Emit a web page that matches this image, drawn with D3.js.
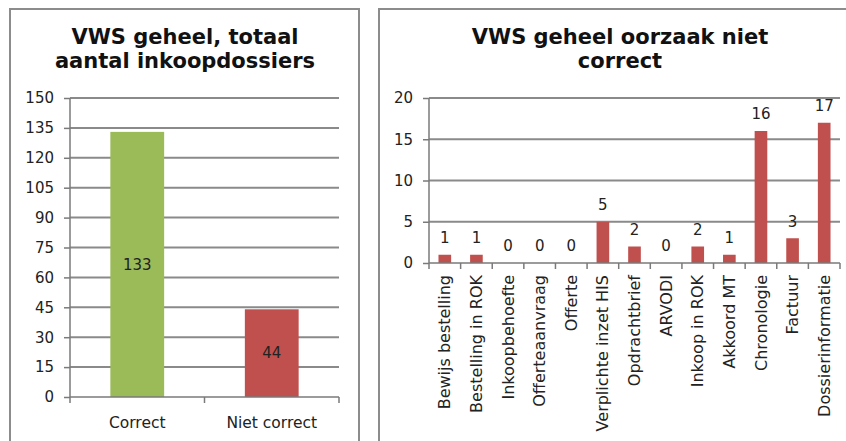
<!DOCTYPE html>
<html>
<head>
<meta charset="utf-8">
<script src="https://cdnjs.cloudflare.com/ajax/libs/d3/7.8.5/d3.min.js"></script>
<style>
  body { margin: 0; background: #fff; }
  svg { display: block; }
  text { font-family: "DejaVu Sans", Verdana, sans-serif; fill: #222; }
  .title { font-weight: bold; font-size: 21px; fill: #111; }
  .grid line { stroke: #8a8a8a; stroke-width: 2; }
  .axis path, .axis line { stroke: #7a7a7a; stroke-width: 1.5; }
</style>
</head>
<body>
<script>
// DATA
var totalCategories = ["Correct", "Niet correct"];
var totalValues = [133, 44];
var totalColors = ["#9bbb59", "#c0504d"];
var totalTicks = [0, 15, 30, 45, 60, 75, 90, 105, 120, 135, 150];

var causeCategories = ["Bewijs bestelling", "Bestelling in ROK", "Inkoopbehoefte",
  "Offerteaanvraag", "Offerte", "Verplichte inzet HIS", "Opdrachtbrief", "ARVODI",
  "Inkoop in ROK", "Akkoord MT", "Chronologie", "Factuur", "Dossierinformatie"];
var causeValues = [1, 1, 0, 0, 0, 5, 2, 0, 2, 1, 16, 3, 17];
var causeTicks = [0, 5, 10, 15, 20];

var W = 846, H = 441;

var svg = d3.select("body").append("svg")
  .attr("width", W)
  .attr("height", H);

// panel frames (bottom / right edge run off the picture)
svg.append("path")
  .attr("d", "M10,445 V9 H359 V445")
  .attr("fill", "none").attr("stroke", "#8c8c8c").attr("stroke-width", 2);
svg.append("path")
  .attr("d", "M379,445 V9 H850")
  .attr("fill", "none").attr("stroke", "#8c8c8c").attr("stroke-width", 2);

// draws one column chart
function drawChart(opt) {
  var g = svg.append("g");

  var x = d3.scaleBand()
    .domain(opt.categories)
    .range([opt.left, opt.right])
    .paddingInner(0.6)
    .paddingOuter(0.3);

  var y = d3.scaleLinear()
    .domain([0, d3.max(opt.ticks)])
    .range([opt.bottom, opt.top]);

  // title
  g.selectAll("text.title")
    .data(opt.title)
    .enter().append("text")
    .attr("class", "title")
    .attr("x", opt.titleX)
    .attr("y", function (d, i) { return 44 + i * 24; })
    .attr("text-anchor", "middle")
    .text(function (d) { return d; });

  // gridlines
  g.append("g")
    .attr("class", "grid")
    .selectAll("line")
    .data(opt.ticks.slice(1))
    .enter().append("line")
    .attr("x1", opt.left).attr("x2", opt.right)
    .attr("y1", function (d) { return y(d); })
    .attr("y2", function (d) { return y(d); });

  // y axis
  var yAxis = d3.axisLeft(y)
    .tickValues(opt.ticks)
    .tickSize(6)
    .tickPadding(10);
  var ya = g.append("g")
    .attr("class", "axis")
    .attr("transform", "translate(" + opt.left + ",0)")
    .call(yAxis);
  ya.select(".domain").attr("d", "M0," + opt.top + "V" + opt.bottom);
  ya.selectAll("text").style("font-size", "15px").attr("fill", "#222");

  // bars
  g.selectAll("rect.bar")
    .data(opt.values)
    .enter().append("rect")
    .attr("class", "bar")
    .attr("x", function (d, i) { return x(opt.categories[i]); })
    .attr("width", x.bandwidth())
    .attr("y", function (d) { return y(d); })
    .attr("height", function (d) { return y(0) - y(d); })
    .attr("fill", function (d, i) { return opt.colors[i % opt.colors.length]; });

  // value labels
  g.selectAll("text.val")
    .data(opt.values)
    .enter().append("text")
    .attr("class", "val")
    .attr("x", function (d, i) { return x(opt.categories[i]) + x.bandwidth() / 2; })
    .attr("y", function (d) {
      return opt.inside ? (y(d) + y(0)) / 2 : y(d) - 17;
    })
    .attr("dy", "0.35em")
    .attr("text-anchor", "middle")
    .style("font-size", "15px")
    .text(function (d) { return d; });

  // x axis line with tick marks between categories
  var edges = d3.range(opt.categories.length + 1).map(function (i) {
    return opt.left + i * (opt.right - opt.left) / opt.categories.length;
  });
  var xa = g.append("g").attr("class", "axis");
  xa.append("line")
    .attr("x1", opt.left).attr("x2", opt.right)
    .attr("y1", y(0)).attr("y2", y(0));
  xa.selectAll("line.tick")
    .data(edges)
    .enter().append("line")
    .attr("class", "tick")
    .attr("x1", function (d) { return d; })
    .attr("x2", function (d) { return d; })
    .attr("y1", y(0)).attr("y2", y(0) + 6);

  // category labels
  var labels = g.selectAll("text.cat")
    .data(opt.categories)
    .enter().append("text")
    .attr("class", "cat");
  if (opt.rotate) {
    labels
      .style("font-size", "16px")
      .attr("transform", function (d) {
        return "translate(" + (x(d) + x.bandwidth() / 2) + "," + (y(0) + 12) + ") rotate(-90)";
      })
      .attr("dy", "0.35em")
      .attr("text-anchor", "end")
      .text(function (d) { return d; });
  } else {
    labels
      .style("font-size", "15.5px")
      .attr("x", function (d) { return x(d) + x.bandwidth() / 2; })
      .attr("y", y(0) + 26)
      .attr("dy", "0.35em")
      .attr("text-anchor", "middle")
      .text(function (d) { return d; });
  }
}

drawChart({
  title: ["VWS geheel, totaal", "aantal inkoopdossiers"],
  titleX: 185,
  categories: totalCategories,
  values: totalValues,
  colors: totalColors,
  ticks: totalTicks,
  left: 70, right: 339, top: 98, bottom: 397,
  inside: true,
  rotate: false
});

drawChart({
  title: ["VWS geheel oorzaak niet", "correct"],
  titleX: 620,
  categories: causeCategories,
  values: causeValues,
  colors: ["#c0504d"],
  ticks: causeTicks,
  left: 429, right: 840, top: 98, bottom: 263,
  inside: false,
  rotate: true
});
</script>
</body>
</html>
